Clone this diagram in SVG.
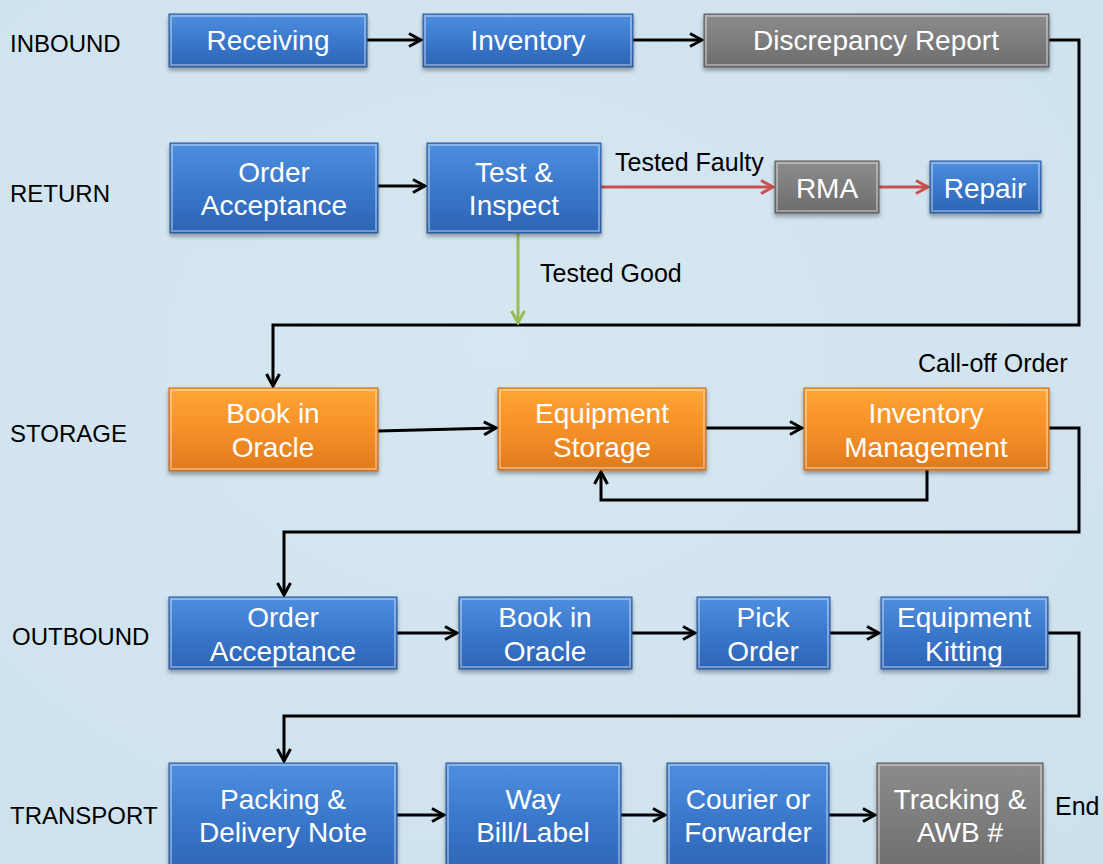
<svg xmlns="http://www.w3.org/2000/svg" width="1103" height="864" viewBox="0 0 1103 864">
<defs>
<linearGradient id="gBlue" x1="0" y1="0" x2="0" y2="1"><stop offset="0" stop-color="#4f8fde"/><stop offset="0.5" stop-color="#3a78cc"/><stop offset="1" stop-color="#2d64b4"/></linearGradient>
<linearGradient id="gOrange" x1="0" y1="0" x2="0" y2="1"><stop offset="0" stop-color="#ffa535"/><stop offset="0.5" stop-color="#f69028"/><stop offset="1" stop-color="#e07a1c"/></linearGradient>
<linearGradient id="gGray" x1="0" y1="0" x2="0" y2="1"><stop offset="0" stop-color="#8c8c8c"/><stop offset="0.5" stop-color="#7d7d7d"/><stop offset="1" stop-color="#6c6c6c"/></linearGradient>
<radialGradient id="gBg" cx="0.45" cy="0.4" r="0.8"><stop offset="0" stop-color="#d6e7f1"/><stop offset="1" stop-color="#cde1ed"/></radialGradient>
<filter id="sh" x="-10%" y="-10%" width="120%" height="140%"><feDropShadow dx="0" dy="3" stdDeviation="2" flood-color="#000" flood-opacity="0.35"/></filter>
<marker id="aK" viewBox="0 0 16 16" refX="14" refY="8" markerWidth="16" markerHeight="16" markerUnits="userSpaceOnUse" orient="auto"><path d="M2,1.5 L14,8 L2,14.5" fill="none" stroke="#000" stroke-width="3" stroke-linejoin="miter"/></marker>
<marker id="aR" viewBox="0 0 16 16" refX="14" refY="8" markerWidth="16" markerHeight="16" markerUnits="userSpaceOnUse" orient="auto"><path d="M2,1.5 L14,8 L2,14.5" fill="none" stroke="#c9504c" stroke-width="3"/></marker>
<marker id="aG" viewBox="0 0 16 16" refX="14" refY="8" markerWidth="16" markerHeight="16" markerUnits="userSpaceOnUse" orient="auto"><path d="M2,1.5 L14,8 L2,14.5" fill="none" stroke="#9bbb59" stroke-width="3"/></marker>
</defs>
<style>
.blue{fill:url(#gBlue);stroke:#2a5896;stroke-width:1}
.orange{fill:url(#gOrange);stroke:#c06a18;stroke-width:1}
.gray{fill:url(#gGray);stroke:#5a5a5a;stroke-width:1}
.hl{fill:none;stroke:#ffffff;stroke-opacity:0.35;stroke-width:2}
.bt{font-family:"Liberation Sans",Arial,sans-serif;font-size:28px;fill:#ffffff;text-anchor:middle}
.lbl{font-family:"Liberation Sans",Arial,sans-serif;font-size:24px;fill:#000000}
.el{font-family:"Liberation Sans",Arial,sans-serif;font-size:25px;fill:#000000}
.c{fill:none;stroke:#000;stroke-width:3}
</style>
<rect x="0" y="0" width="1103" height="864" fill="url(#gBg)"/>

<g id="row-labels">
<text class="lbl" x="10" y="52">INBOUND</text>
<text class="lbl" x="10" y="202">RETURN</text>
<text class="lbl" x="10" y="442">STORAGE</text>
<text class="lbl" x="12" y="645">OUTBOUND</text>
<text class="lbl" x="10" y="824">TRANSPORT</text>
</g>

<g id="connectors">
<path class="c" d="M367,40 L421,40" marker-end="url(#aK)"/>
<path class="c" d="M633,40 L702,40" marker-end="url(#aK)"/>
<path class="c" d="M1049,40 L1079,40 L1079,325 L273,325 L273,386" marker-end="url(#aK)"/>
<path class="c" d="M378,186 L425,186" marker-end="url(#aK)"/>
<path d="M601,187 L773,187" fill="none" stroke="#c9504c" stroke-width="3" marker-end="url(#aR)"/>
<path d="M879,187 L928,187" fill="none" stroke="#c9504c" stroke-width="3" marker-end="url(#aR)"/>
<path d="M518,233 L518,323" fill="none" stroke="#9bbb59" stroke-width="3" marker-end="url(#aG)"/>
<path class="c" d="M378,431 L496,428" marker-end="url(#aK)"/>
<path class="c" d="M706,428 L802,428" marker-end="url(#aK)"/>
<path class="c" d="M927,470 L927,500 L601,500 L601,472" marker-end="url(#aK)"/>
<path class="c" d="M1049,428 L1079,428 L1079,532 L284,532 L284,595" marker-end="url(#aK)"/>
<path class="c" d="M397,633 L457,633" marker-end="url(#aK)"/>
<path class="c" d="M632,633 L695,633" marker-end="url(#aK)"/>
<path class="c" d="M830,633 L879,633" marker-end="url(#aK)"/>
<path class="c" d="M1048,633 L1079,633 L1079,716 L284,716 L284,761" marker-end="url(#aK)"/>
<path class="c" d="M397,815 L444,815" marker-end="url(#aK)"/>
<path class="c" d="M621,815 L665,815" marker-end="url(#aK)"/>
<path class="c" d="M829,815 L875,815" marker-end="url(#aK)"/>
</g>

<g id="edge-labels">
<text class="el" x="615" y="171">Tested Faulty</text>
<text class="el" x="540" y="282">Tested Good</text>
<text class="el" x="918" y="372">Call-off Order</text>
<text class="el" x="1055" y="815">End</text>
</g>

<g id="n-receiving"><rect class="blue" x="169" y="14" width="198" height="53" filter="url(#sh)"/><rect class="hl" x="171" y="16" width="194" height="49"/><text class="bt" x="268" y="50">Receiving</text></g>
<g id="n-inventory"><rect class="blue" x="423" y="14" width="210" height="53" filter="url(#sh)"/><rect class="hl" x="425" y="16" width="206" height="49"/><text class="bt" x="528" y="50">Inventory</text></g>
<g id="n-discrepancy"><rect class="gray" x="704" y="14" width="345" height="53" filter="url(#sh)"/><rect class="hl" x="706" y="16" width="341" height="49"/><text class="bt" x="876" y="50">Discrepancy Report</text></g>

<g id="n-order-acceptance-r"><rect class="blue" x="170" y="143" width="208" height="90" filter="url(#sh)"/><rect class="hl" x="172" y="145" width="204" height="86"/><text class="bt" x="274" y="182">Order</text><text class="bt" x="274" y="215">Acceptance</text></g>
<g id="n-test-inspect"><rect class="blue" x="427" y="143" width="174" height="90" filter="url(#sh)"/><rect class="hl" x="429" y="145" width="170" height="86"/><text class="bt" x="514" y="182">Test &amp;</text><text class="bt" x="514" y="215">Inspect</text></g>
<g id="n-rma"><rect class="gray" x="775" y="161" width="104" height="52" filter="url(#sh)"/><rect class="hl" x="777" y="163" width="100" height="48"/><text class="bt" x="827" y="198">RMA</text></g>
<g id="n-repair"><rect class="blue" x="930" y="161" width="111" height="52" filter="url(#sh)"/><rect class="hl" x="932" y="163" width="107" height="48"/><text class="bt" x="985" y="198">Repair</text></g>

<g id="n-book-oracle-s"><rect class="orange" x="169" y="388" width="209" height="83" filter="url(#sh)"/><rect class="hl" x="171" y="390" width="205" height="79"/><text class="bt" x="273" y="423">Book in</text><text class="bt" x="273" y="457">Oracle</text></g>
<g id="n-equip-storage"><rect class="orange" x="498" y="388" width="208" height="82" filter="url(#sh)"/><rect class="hl" x="500" y="390" width="204" height="78"/><text class="bt" x="602" y="423">Equipment</text><text class="bt" x="602" y="457">Storage</text></g>
<g id="n-inv-mgmt"><rect class="orange" x="804" y="388" width="245" height="82" filter="url(#sh)"/><rect class="hl" x="806" y="390" width="241" height="78"/><text class="bt" x="926" y="423">Inventory</text><text class="bt" x="926" y="457">Management</text></g>

<g id="n-order-acceptance-o"><rect class="blue" x="169" y="597" width="228" height="72" filter="url(#sh)"/><rect class="hl" x="171" y="599" width="224" height="68"/><text class="bt" x="283" y="627">Order</text><text class="bt" x="283" y="661">Acceptance</text></g>
<g id="n-book-oracle-o"><rect class="blue" x="459" y="597" width="173" height="72" filter="url(#sh)"/><rect class="hl" x="461" y="599" width="169" height="68"/><text class="bt" x="545" y="627">Book in</text><text class="bt" x="545" y="661">Oracle</text></g>
<g id="n-pick-order"><rect class="blue" x="697" y="597" width="133" height="72" filter="url(#sh)"/><rect class="hl" x="699" y="599" width="129" height="68"/><text class="bt" x="763" y="627">Pick</text><text class="bt" x="763" y="661">Order</text></g>
<g id="n-equip-kitting"><rect class="blue" x="881" y="597" width="167" height="72" filter="url(#sh)"/><rect class="hl" x="883" y="599" width="163" height="68"/><text class="bt" x="964" y="627">Equipment</text><text class="bt" x="964" y="661">Kitting</text></g>

<g id="n-packing"><rect class="blue" x="169" y="763" width="228" height="110" filter="url(#sh)"/><rect class="hl" x="171" y="765" width="224" height="106"/><text class="bt" x="283" y="809">Packing &amp;</text><text class="bt" x="283" y="842">Delivery Note</text></g>
<g id="n-waybill"><rect class="blue" x="446" y="763" width="175" height="110" filter="url(#sh)"/><rect class="hl" x="448" y="765" width="171" height="106"/><text class="bt" x="533" y="809">Way</text><text class="bt" x="533" y="842">Bill/Label</text></g>
<g id="n-courier"><rect class="blue" x="667" y="763" width="162" height="110" filter="url(#sh)"/><rect class="hl" x="669" y="765" width="158" height="106"/><text class="bt" x="748" y="809">Courier or</text><text class="bt" x="748" y="842">Forwarder</text></g>
<g id="n-tracking"><rect class="gray" x="877" y="763" width="166" height="110" filter="url(#sh)"/><rect class="hl" x="879" y="765" width="162" height="106"/><text class="bt" x="960" y="809">Tracking &amp;</text><text class="bt" x="960" y="842">AWB #</text></g>
</svg>
